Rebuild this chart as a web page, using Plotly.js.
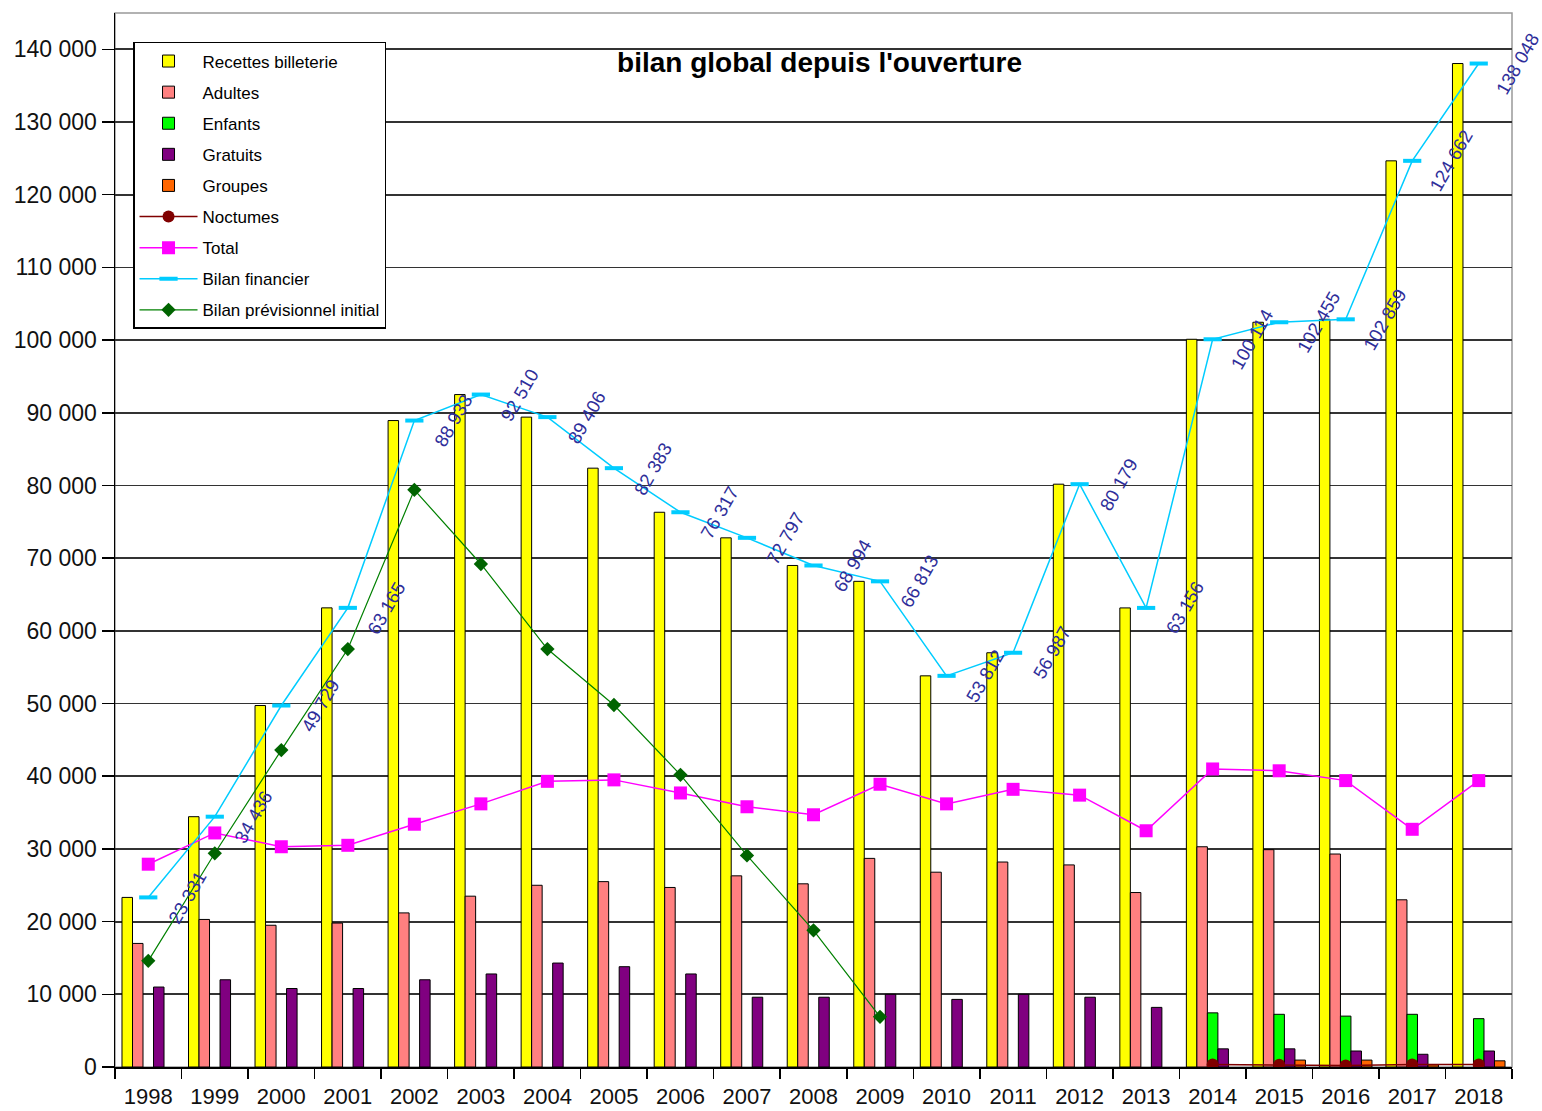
<!DOCTYPE html>
<html>
<head>
<meta charset="utf-8">
<script src="https://cdn.plot.ly/plotly-3.0.1.min.js"></script>
<style>html,body{margin:0;padding:0;background:#fff;}</style>
</head>
<body>
<div id="chart" style="width:1542px;height:1111px;"></div>
<script>
var years = ['1998','1999','2000','2001','2002','2003','2004','2005','2006','2007','2008','2009','2010','2011','2012','2013','2014','2015','2016','2017','2018'];
var recettes = [23331, 34436, 49729, 63165, 88933, 92510, 89406, 82383, 76317, 72797, 68994, 66813, 53812, 56987, 80179, 63156, 100114, 102455, 102859, 124662, 138048];
var adultes = [17000, 20300, 19500, 19800, 21200, 23500, 25000, 25500, 24700, 26300, 25200, 28700, 26800, 28200, 27800, 24000, 30300, 29900, 29300, 23000, null];
var enfants = [null, null, null, null, null, null, null, null, null, null, null, null, null, null, null, null, 7450, 7250, 7000, 7250, 6650];
var gratuits = [11000, 12000, 10800, 10800, 12000, 12800, 14300, 13800, 12800, 9600, 9600, 10000, 9300, 10000, 9600, 8200, 2500, 2500, 2200, 1750, 2200];
var groupes = [null, null, null, null, null, null, null, null, null, null, null, null, null, null, null, null, null, 950, 950, 300, 850];
var noctumes = [null, null, null, null, null, null, null, null, null, null, null, null, null, null, null, null, 350, 300, 200, 350, 350];
var total = [27900, 32200, 30300, 30500, 33400, 36200, 39300, 39500, 37700, 35800, 34700, 38900, 36200, 38200, 37400, 32500, 41000, 40750, 39400, 32700, 39400];
var bilanFinancier = [23331, 34436, 49729, 63165, 88933, 92510, 89406, 82383, 76317, 72797, 68994, 66813, 53812, 56987, 80179, 63156, 100114, 102455, 102859, 124662, 138048];
var previsionnel = [14600, 29400, 43600, 57500, 79400, 69200, 57500, 49800, 40200, 29100, 18800, 6900, null, null, null, null, null, null, null, null, null];
var yTicks = [0, 10000, 20000, 30000, 40000, 50000, 60000, 70000, 80000, 90000, 100000, 110000, 120000, 130000, 140000];

var FONT = 'Arial, "Liberation Sans", sans-serif';
function fmt(v) { return String(v).replace(/\B(?=(\d{3})+(?!\d))/g, ' '); }

function barTrace(name, vals, color, grp) {
  return { type: 'bar', name: name, x: years, y: vals, legendgroup: grp,
    marker: { color: color, line: { color: '#000', width: 1 } }, hoverinfo: 'x+y' };
}

var traces = [
  barTrace('Recettes billeterie', recettes, '#FFFF00', 'g1'),
  barTrace('Adultes', adultes, '#FF8080', 'g2'),
  barTrace('Enfants', enfants, '#00FF00', 'g3'),
  barTrace('Gratuits', gratuits, '#800080', 'g4'),
  barTrace('Groupes', groupes, '#FF6600', 'g5'),
  { type: 'scatter', mode: 'lines+markers', name: 'Noctumes', x: years, y: noctumes, legendgroup: 'g6',
    line: { color: '#800000', width: 1.5 }, marker: { symbol: 'circle', size: 12, color: '#800000' } },
  { type: 'scatter', mode: 'lines+markers', name: 'Total', x: years, y: total, legendgroup: 'g7',
    line: { color: '#FF00FF', width: 1.5 }, marker: { symbol: 'square', size: 13, color: '#FF00FF' } },
  { type: 'scatter', mode: 'lines+markers', name: 'Bilan financier', x: years, y: bilanFinancier, legendgroup: 'g8',
    line: { color: '#00CCFF', width: 1.5 }, marker: { symbol: 'line-ew', size: 13, color: '#00CCFF', line: { color: '#00CCFF', width: 4 } } },
  { type: 'scatter', mode: 'lines+markers', name: 'Bilan prévisionnel initial', x: years, y: previsionnel, legendgroup: 'g9',
    line: { color: '#008000', width: 1.2 }, marker: { symbol: 'diamond', size: 11, color: '#006400' } }
];

// category axis: annotation positions use the category index
var annotations = years.map(function (yr, i) {
  return { x: i, y: bilanFinancier[i], xref: 'x', yref: 'y', text: fmt(bilanFinancier[i]),
    showarrow: false, textangle: -60, xshift: 39, font: { family: FONT, size: 18.5, color: '#2E2E9A' } };
});

var layout = {
  width: 1542, height: 1111,
  margin: { l: 115, r: 30, t: 13, b: 44 },
  paper_bgcolor: '#fff', plot_bgcolor: '#fff',
  font: { family: FONT, color: '#111' },
  separators: ', ',
  barmode: 'group', bargap: 0.21, bargroupgap: 0,
  title: { text: "<b>bilan global depuis l'ouverture</b>", x: 0.5043, xref: 'paper', xanchor: 'center',
    y: 1 - 62 / 1111, yref: 'container', yanchor: 'middle', font: { family: FONT, size: 28, color: '#000' } },
  xaxis: { type: 'category', tickson: 'boundaries', ticks: 'outside', ticklen: 10, tickwidth: 1.5, tickcolor: '#000',
    showline: true, linecolor: '#000', linewidth: 1.5, showgrid: false, range: [-0.5, 20.5],
    tickfont: { family: FONT, size: 22, color: '#111' }, ticklabelstandoff: 9 },
  yaxis: { range: [0, 145000], tickvals: yTicks, tickformat: ',d', ticks: 'outside', ticklen: 12, tickwidth: 1.5, tickcolor: '#000',
    showline: true, linecolor: '#000', linewidth: 1.5, showgrid: true, gridcolor: '#333', gridwidth: 1.8, zeroline: false,
    tickfont: { family: FONT, size: 23, color: '#111' }, ticklabelstandoff: 0 },
  legend: { x: 0.0129, y: 0.9725, xanchor: 'left', yanchor: 'top', bgcolor: '#fff', bordercolor: '#000', borderwidth: 1.5,
    font: { family: FONT, size: 17, color: '#000' }, traceorder: 'grouped', tracegroupgap: 6, itemwidth: 58 },
  shapes: [{ type: 'rect', xref: 'paper', yref: 'paper', x0: 0, x1: 1, y0: 0, y1: 1, line: { color: '#999', width: 1.5 }, layer: 'below' }],
  annotations: annotations
};

Plotly.newPlot('chart', traces, layout, { displayModeBar: false, staticPlot: true });
</script>
</body>
</html>
